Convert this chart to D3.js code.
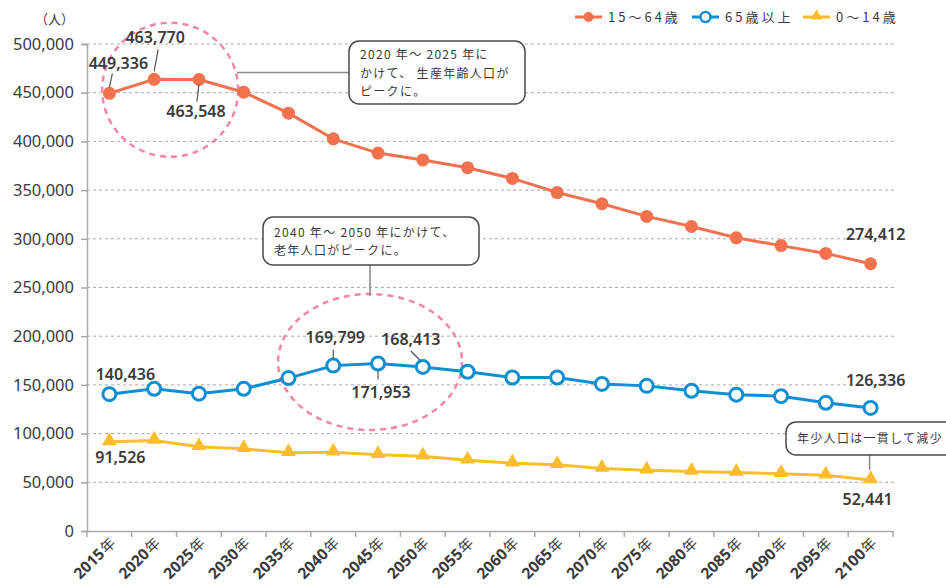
<!DOCTYPE html>
<html>
<head>
<meta charset="utf-8" />
<title>人口推計</title>
<style>
  body { margin: 0; background: #fff; }
  text { font-family: "Noto Sans", "Noto Sans CJK JP", sans-serif; fill: #3a3a3a; }
  .cjk { font-family: "Noto Sans CJK JP", sans-serif; }
</style>
</head>
<body>
<script src="https://d3js.org/d3.v7.min.js"></script>
<script>
  var years = ["2015", "2020", "2025", "2030", "2035", "2040", "2045", "2050", "2055",
               "2060", "2065", "2070", "2075", "2080", "2085", "2090", "2095", "2100"];
  var working = [449336, 463770, 463548, 450500, 429000, 402600, 388000, 381000, 373000,
                 362000, 347500, 336000, 323000, 312600, 301000, 293000, 285000, 274412];
  var elderly = [140436, 146000, 141000, 146000, 157000, 169799, 171953, 168413, 163500,
                 157600, 157600, 151000, 149000, 144000, 140000, 138400, 131600, 126336];
  var children = [91526, 93000, 86400, 84400, 80300, 80800, 78200, 76800, 72700,
                  69600, 68000, 64200, 62400, 61100, 60000, 58700, 57300, 52441];
  var yTicks = [0, 50000, 100000, 150000, 200000, 250000, 300000, 350000, 400000, 450000, 500000];
  var legendNames = ["15～64歳", "65歳以上", "0～14歳"];

  var width = 946, height = 587;
  var margin = {left: 87, right: 53, top: 44, bottom: 56};
  var colors = {working: "#f2714f", elderly: "#0f8fd2", children: "#fbbd2b"};

  var svg = d3.select("body").append("svg")
              .attr("width", width)
              .attr("height", height);

  var x = d3.scaleBand()
            .domain(years)
            .range([margin.left, width - margin.right]);

  var y = d3.scaleLinear()
            .domain([0, 500000])
            .range([height - margin.bottom, margin.top]);

  var cx = function(i) { return x(years[i]) + x.bandwidth() / 2; };
  var fmt = d3.format(",");

  // grid
  svg.append("g")
     .selectAll("line")
     .data(yTicks.slice(1))
     .enter().append("line")
     .attr("x1", margin.left)
     .attr("x2", width - margin.right + 2)
     .attr("y1", d => y(d))
     .attr("y2", d => y(d))
     .attr("stroke", "#aaa")
     .attr("stroke-width", 1)
     .attr("stroke-dasharray", "3,3");

  // y axis
  var yAxis = svg.append("g")
     .attr("transform", "translate(" + margin.left + ",0)")
     .call(d3.axisLeft(y).tickValues(yTicks).tickFormat(fmt).tickSize(6).tickPadding(7));
  yAxis.select(".domain").attr("stroke", "#aaa").attr("stroke-width", 1.5);
  yAxis.selectAll(".tick line").attr("stroke", "#aaa").attr("stroke-width", 1.5);
  yAxis.selectAll(".tick text").style("font-size", "16.5px").attr("fill", "#3a3a3a");

  // x axis
  var xAxis = svg.append("g")
     .attr("transform", "translate(0," + (height - margin.bottom) + ")")
     .call(d3.axisBottom(x).tickSize(0).tickFormat(""));
  xAxis.select(".domain").attr("stroke", "#aaa").attr("stroke-width", 1.5);
  var xt = xAxis.selectAll(".tick text")
       .text(null)
       .attr("y", 0)
       .attr("dy", 0)
       .attr("text-anchor", "end")
       .attr("transform", "translate(7,13) rotate(-45)");
  xt.append("tspan")
    .style("font-size", "15.5px")
    .style("font-weight", "bold")
    .text(d => d);
  xt.append("tspan")
    .attr("class", "cjk")
    .attr("dx", 1)
    .style("font-size", "14.5px")
    .text("年");

  // band boundary ticks
  svg.append("g")
     .selectAll("line")
     .data(d3.range(years.length + 1))
     .enter().append("line")
     .attr("x1", i => margin.left + i * x.bandwidth())
     .attr("x2", i => margin.left + i * x.bandwidth())
     .attr("y1", height - margin.bottom)
     .attr("y2", height - margin.bottom + 6)
     .attr("stroke", "#aaa")
     .attr("stroke-width", 1.5);

  svg.append("text")
     .attr("class", "cjk")
     .attr("x", 74)
     .attr("y", 24)
     .attr("text-anchor", "end")
     .style("font-size", "13px")
     .text("（人）");

  // highlight circles
  var pink = "#f285ab";
  svg.append("ellipse")
     .attr("cx", cx(1) + 16).attr("cy", y(453000))
     .attr("rx", 68).attr("ry", 67)
     .attr("fill", "none").attr("stroke", pink)
     .attr("stroke-width", 2.5).attr("stroke-dasharray", "6,5");
  svg.append("ellipse")
     .attr("cx", cx(6) - 8).attr("cy", y(173500))
     .attr("rx", 92).attr("ry", 68)
     .attr("fill", "none").attr("stroke", pink)
     .attr("stroke-width", 2.5).attr("stroke-dasharray", "6,5");

  // lines
  var line = d3.line().x((d, i) => cx(i)).y(d => y(d));

  function drawSeries(values, color) {
    svg.append("path")
       .attr("d", line(values))
       .attr("fill", "none")
       .attr("stroke", color)
       .attr("stroke-width", 3);
  }
  drawSeries(working, colors.working);
  drawSeries(elderly, colors.elderly);
  drawSeries(children, colors.children);

  svg.append("g").selectAll("circle")
     .data(working).enter().append("circle")
     .attr("cx", (d, i) => cx(i)).attr("cy", d => y(d))
     .attr("r", 6.5).attr("fill", colors.working);

  svg.append("g").selectAll("circle")
     .data(elderly).enter().append("circle")
     .attr("cx", (d, i) => cx(i)).attr("cy", d => y(d))
     .attr("r", 6.5).attr("fill", "#fff")
     .attr("stroke", colors.elderly).attr("stroke-width", 3);

  var tri = d3.symbol().type(d3.symbolTriangle).size(95);
  svg.append("g").selectAll("path")
     .data(children).enter().append("path")
     .attr("d", tri)
     .attr("transform", (d, i) => "translate(" + cx(i) + "," + (y(d) - 1) + ")")
     .attr("fill", colors.children);

  // data labels: series, index, label offset, leader offsets
  var labels = [
    {s: working, i: 0, dx: 9, dy: -30, lead: [3, -20, 0, -6]},
    {s: working, i: 1, dx: 1, dy: -42, lead: [4, -30, 0, -8]},
    {s: working, i: 2, dx: -3, dy: 32, lead: [0, 5, -2, 22]},
    {s: elderly, i: 0, dx: 16, dy: -20},
    {s: elderly, i: 5, dx: 2, dy: -28, lead: [0, -16, 0, -6]},
    {s: elderly, i: 6, dx: 3, dy: 29, lead: [0, 7, 0, 16]},
    {s: elderly, i: 7, dx: -12, dy: -28, lead: [-12, -16, -2, -6]},
    {s: elderly, i: 17, dx: 5, dy: -28},
    {s: working, i: 17, dx: 5, dy: -29},
    {s: children, i: 0, dx: 11, dy: 16},
    {s: children, i: 17, dx: -3, dy: 19}
  ];
  labels.forEach(function(l) {
    var px = cx(l.i), py = y(l.s[l.i]);
    svg.append("text")
       .attr("x", px + l.dx)
       .attr("y", py + l.dy)
       .attr("dy", "0.35em")
       .attr("text-anchor", "middle")
       .style("font-size", "16px")
       .style("font-weight", "600")
       .text(fmt(l.s[l.i]));
    if (l.lead) {
      svg.append("line")
         .attr("x1", px + l.lead[0]).attr("y1", py + l.lead[1])
         .attr("x2", px + l.lead[2]).attr("y2", py + l.lead[3])
         .attr("stroke", "#555").attr("stroke-width", 1.2);
    }
  });

  // callouts
  function callout(bx, by, bw, bh, lines, lineY0, lineGap, conn) {
    svg.append("path")
       .attr("d", "M" + conn[0] + "," + conn[1] + "L" + conn[2] + "," + conn[3])
       .attr("stroke", "#888").attr("stroke-width", 1.5);
    svg.append("rect")
       .attr("x", bx).attr("y", by)
       .attr("width", bw).attr("height", bh)
       .attr("rx", 10)
       .attr("fill", "#fff").attr("stroke", "#4a4a4a").attr("stroke-width", 1.5);
    lines.forEach(function(t, k) {
      svg.append("text")
         .attr("class", "cjk")
         .attr("x", bx + 11)
         .attr("y", by + lineY0 + k * lineGap)
         .attr("dy", "0.35em")
         .style("font-size", "12px")
         .style("letter-spacing", "1.3px")
         .text(t);
    });
  }
  callout(349, 41, 176, 63, ["2020 年～ 2025 年に", "かけて、 生産年齢人口が", "ピークに。"], 14, 18.5,
          [cx(2) + 38, 72.5, 349, 72.5]);
  callout(263, 217, 216, 48, ["2040 年～ 2050 年にかけて、", "老年人口がピークに。"], 16, 17.5,
          [370, 265, 370, 296]);
  callout(786, 422, 180, 33, ["年少人口は一貫して減少"], 16.5, 0,
          [cx(17) - 1, 455, cx(17) - 1, y(children[17]) - 10]);

  // legend
  var legend = svg.append("g").attr("transform", "translate(575,17)");
  var legendX = [0, 117, 228];
  var legendColors = [colors.working, colors.elderly, colors.children];
  legendNames.forEach(function(name, k) {
    var g = legend.append("g").attr("transform", "translate(" + legendX[k] + ",0)");
    g.append("line")
     .attr("x1", 0).attr("x2", 27).attr("y1", 0).attr("y2", 0)
     .attr("stroke", legendColors[k]).attr("stroke-width", 3);
    if (k === 0) {
      g.append("circle").attr("cx", 13.5).attr("cy", 0).attr("r", 5).attr("fill", legendColors[k]);
    } else if (k === 1) {
      g.append("circle").attr("cx", 13.5).attr("cy", 0).attr("r", 5)
       .attr("fill", "#fff").attr("stroke", legendColors[k]).attr("stroke-width", 2.5);
    } else {
      g.append("path").attr("d", d3.symbol().type(d3.symbolTriangle).size(60))
       .attr("transform", "translate(13.5,-1)").attr("fill", legendColors[k]);
    }
    g.append("text")
     .attr("class", "cjk")
     .attr("x", 33).attr("y", 0).attr("dy", "0.35em")
     .style("font-size", "13px")
     .style("letter-spacing", "3px")
     .text(name);
  });
</script>
</body>
</html>
